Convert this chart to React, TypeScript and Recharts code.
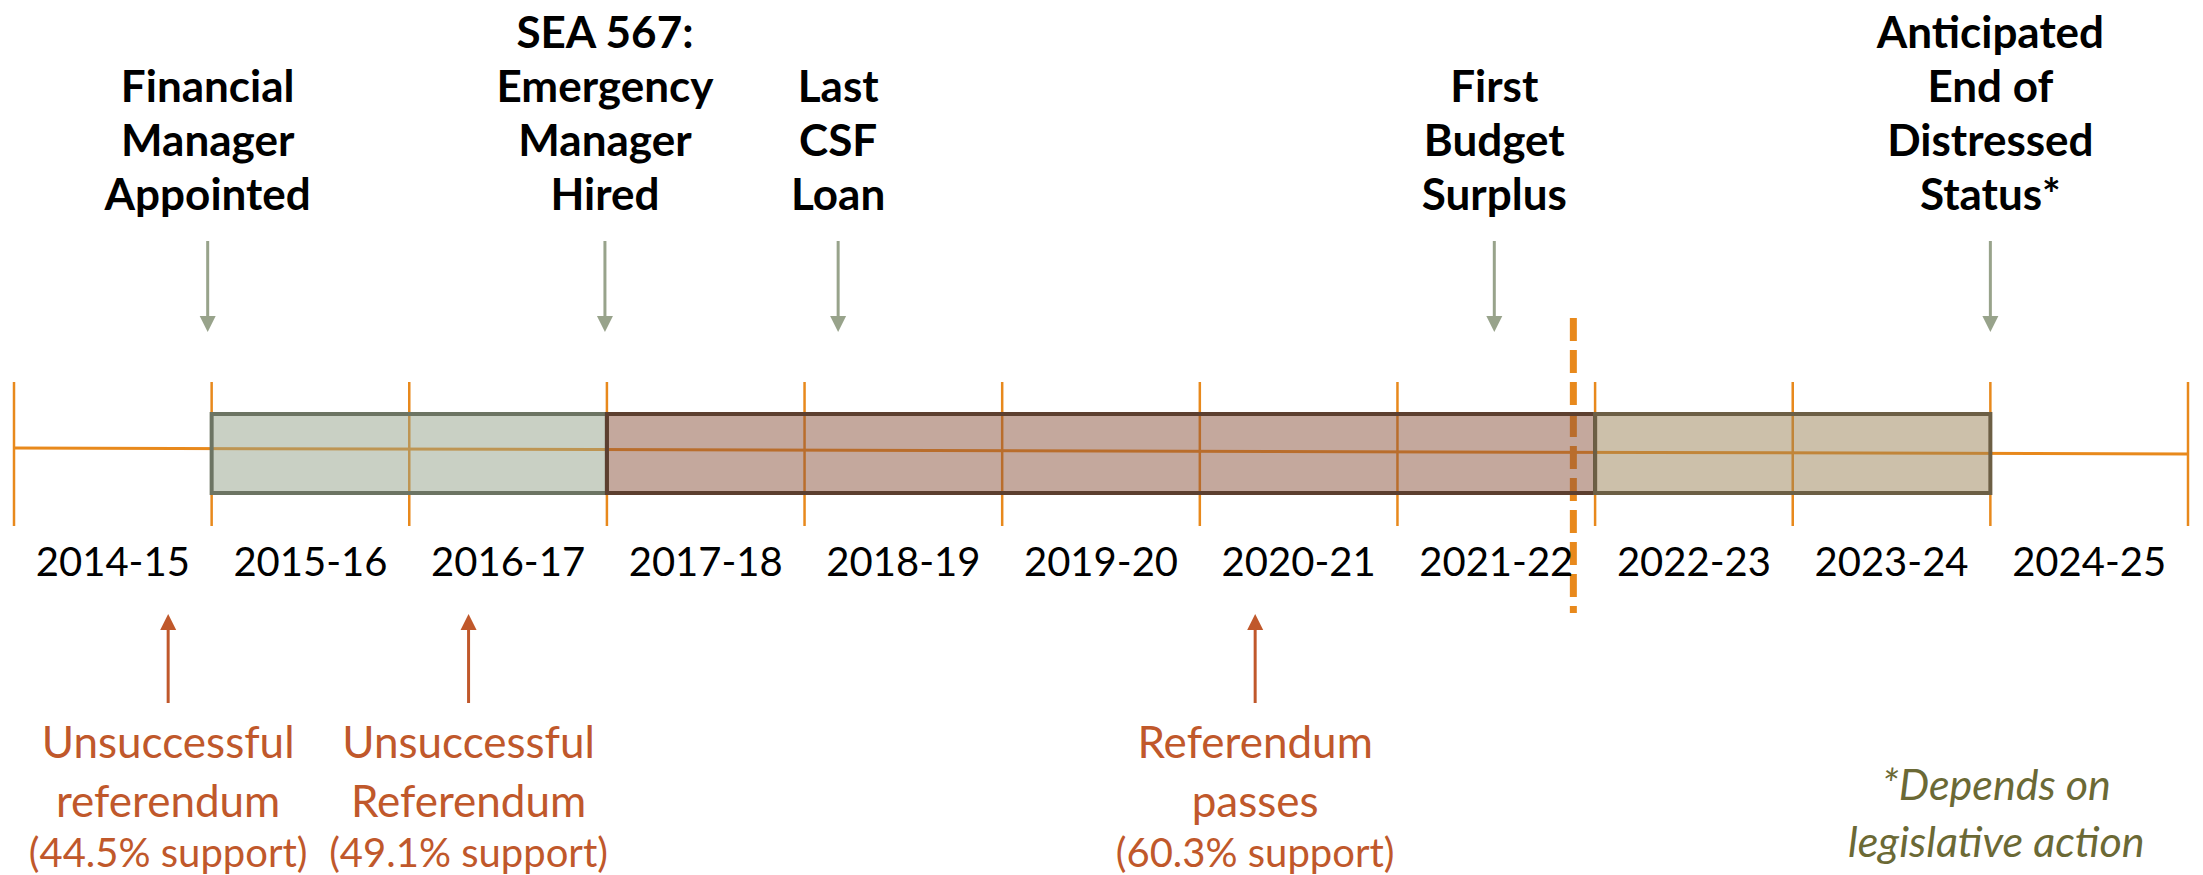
import React from 'react';
import { ComposedChart, XAxis, YAxis, ReferenceLine, ReferenceArea, Scatter } from 'recharts';

// fiscal years on the timeline
const fiscalYears = ['2014-15', '2015-16', '2016-17', '2017-18', '2018-19', '2019-20', '2020-21', '2021-22', '2022-23', '2023-24', '2024-25'];

// oversight phases (in fiscal-year units from the start of 2014-15)
const phaseNames = ['Financial Manager', 'Emergency Manager', 'Transition'];
const phaseStart = [1, 3, 8];
const phaseEnd = [3, 8, 10];

// milestones above the timeline
const milestoneAt = [0.98, 2.99, 4.17, 7.49, 10.0];
const milestoneText = [
  ['Financial', 'Manager', 'Appointed'],
  ['SEA 567:', 'Emergency', 'Manager', 'Hired'],
  ['Last', 'CSF', 'Loan'],
  ['First', 'Budget', 'Surplus'],
  ['Anticipated', 'End of', 'Distressed', 'Status*'],
];

// referenda below the timeline
const referendumAt = [0.78, 2.3, 6.28];
const referendumText = [
  ['Unsuccessful', 'referendum'],
  ['Unsuccessful', 'Referendum'],
  ['Referendum', 'passes'],
];
const referendumSupport = [44.5, 49.1, 60.3];

// "today" marker
const currentAt = 7.89;

const footnoteAt = 10.03;
const footnoteText = ['*Depends on', 'legislative action'];

// colours / layout
const W = 2203;
const H = 875;
const ORANGE = '#e8891c';
const ARROW_GREEN = '#98a38b';
const RUST = '#c0582b';
const OLIVE = '#6b6935';
const phaseFill = ['#93a189', '#89513b', '#998155'];
const phaseStroke = ['#6c7463', '#5c3f2f', '#6c5f45'];
const FONT = 'Lato, "Noto Sans", sans-serif';

const ROW = {
  tickTop: 382,
  tickBottom: 526,
  boxTop: 414,
  boxBottom: 493,
  lineLeft: 448,
  lineRight: 454,
  dashTop: 318,
  dashBottom: 613,
  downTip: 332,
  yearBase: 576,
  upTip: 614,
  footnote: 800,
};

const boundaries = fiscalYears.map((_, i) => i).concat(fiscalYears.length);

const milestones = milestoneAt.map((at, i) => ({ x: at, y: ROW.downTip, lines: milestoneText[i] }));
const referenda = referendumAt.map((at, i) => ({
  x: at,
  y: ROW.upTip,
  lines: referendumText[i],
  support: `(${referendumSupport[i]}% support)`,
}));
const yearLabels = fiscalYears.map((label, i) => ({ x: i + 0.5, y: ROW.yearBase, label }));
const footnote = [{ x: footnoteAt, y: ROW.footnote, lines: footnoteText }];

const MilestoneShape = (props: any) => {
  const { cx, cy, payload } = props;
  const lines: string[] = payload.lines;
  const lastBase = cy - 122;
  return (
    <g>
      {lines.map((t, i) => (
        <text key={i} x={cx} y={lastBase - (lines.length - 1 - i) * 54} textAnchor="middle"
          fontFamily={FONT} fontWeight={700} fontSize={44} fill="#000">{t}</text>
      ))}
      <line x1={cx} y1={cy - 91} x2={cx} y2={cy - 14} stroke={ARROW_GREEN} strokeWidth={3} />
      <polygon points={`${cx - 8},${cy - 16} ${cx + 8},${cy - 16} ${cx},${cy}`} fill={ARROW_GREEN} />
    </g>
  );
};

const ReferendumShape = (props: any) => {
  const { cx, cy, payload } = props;
  const lines: string[] = payload.lines;
  return (
    <g>
      <line x1={cx} y1={cy + 14} x2={cx} y2={cy + 89} stroke={RUST} strokeWidth={3} />
      <polygon points={`${cx - 8},${cy + 16} ${cx + 8},${cy + 16} ${cx},${cy}`} fill={RUST} />
      {lines.map((t, i) => (
        <text key={i} x={cx} y={cy + 144 + i * 59} textAnchor="middle"
          fontFamily={FONT} fontSize={44} fill={RUST}>{t}</text>
      ))}
      <text x={cx} y={cy + 253} textAnchor="middle" fontFamily={FONT} fontSize={40} fill={RUST}>
        {payload.support}
      </text>
    </g>
  );
};

const YearShape = (props: any) => {
  const { cx, cy, payload } = props;
  return (
    <text x={cx} y={cy} textAnchor="middle" fontFamily={FONT} fontSize={40} fill="#000">
      {payload.label}
    </text>
  );
};

const FootnoteShape = (props: any) => {
  const { cx, cy, payload } = props;
  return (
    <g>
      {payload.lines.map((t: string, i: number) => (
        <text key={i} x={cx} y={cy + i * 57} textAnchor="middle" fontFamily={FONT}
          fontStyle="italic" fontSize={43} fill={OLIVE}>{t}</text>
      ))}
    </g>
  );
};

export default function App() {
  return (
    <div style={{ position: 'absolute', left: 0, top: 0, background: '#fff' }}>
      <ComposedChart width={W} height={H} margin={{ top: 0, right: 15, bottom: 0, left: 14 }}>
        <XAxis type="number" dataKey="x" domain={[0, fiscalYears.length]} hide />
        <YAxis type="number" dataKey="y" domain={[0, H]} reversed hide />

        {boundaries.map((b) => (
          <ReferenceLine key={`tick-${b}`} zIndex={100}
            segment={[{ x: b, y: ROW.tickTop }, { x: b, y: ROW.tickBottom }]}
            stroke={ORANGE} strokeWidth={2.5} />
        ))}
        <ReferenceLine zIndex={100}
          segment={[{ x: 0, y: ROW.lineLeft }, { x: fiscalYears.length, y: ROW.lineRight }]}
          stroke={ORANGE} strokeWidth={3} />
        <ReferenceLine zIndex={100}
          segment={[{ x: currentAt, y: ROW.dashTop }, { x: currentAt, y: ROW.dashBottom }]}
          stroke={ORANGE} strokeWidth={7} strokeDasharray="23 9" />

        {phaseNames.map((name, i) => (
          <ReferenceArea key={name} zIndex={450} x1={phaseStart[i]} x2={phaseEnd[i]} y1={ROW.boxTop} y2={ROW.boxBottom}
            fill={phaseFill[i]} fillOpacity={0.5} stroke={phaseStroke[i]} strokeWidth={4} strokeOpacity={1} />
        ))}

        <Scatter name="years" data={yearLabels} shape={YearShape} isAnimationActive={false} />
        <Scatter name="milestones" data={milestones} shape={MilestoneShape} isAnimationActive={false} />
        <Scatter name="referenda" data={referenda} shape={ReferendumShape} isAnimationActive={false} />
        <Scatter name="footnote" data={footnote} shape={FootnoteShape} isAnimationActive={false} />
      </ComposedChart>
    </div>
  );
}
